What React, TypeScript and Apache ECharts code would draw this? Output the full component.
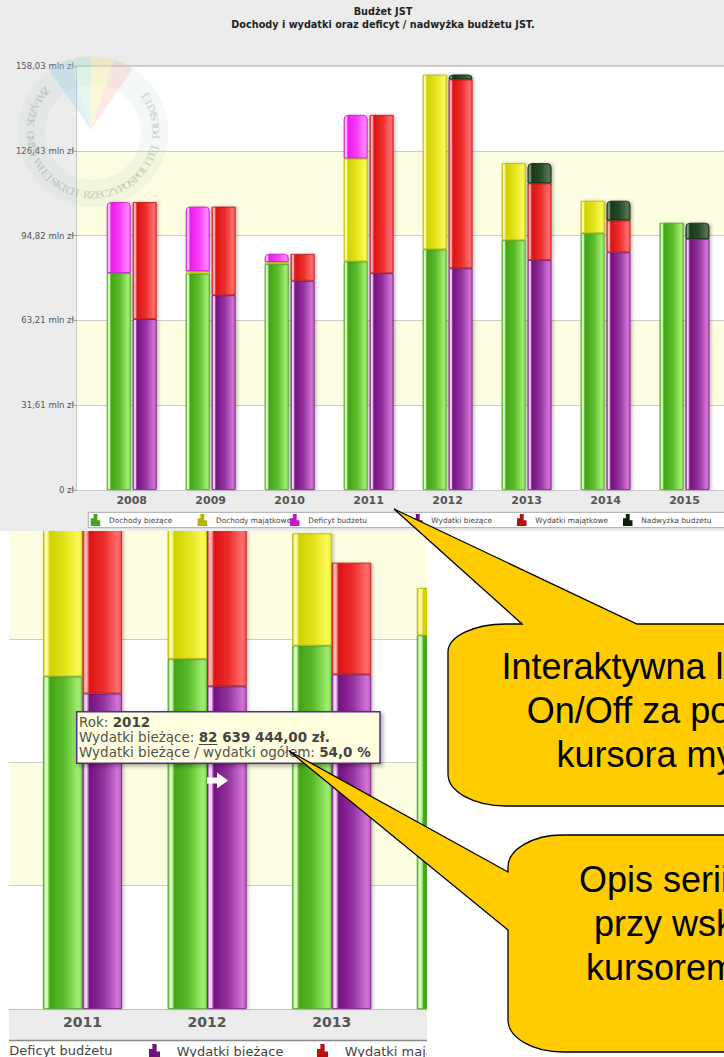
import React, { useEffect, useRef } from "react";
import * as echarts from "echarts";

// ---------------- data ----------------
const years = ["2008", "2009", "2010", "2011", "2012", "2013", "2014", "2015"];
const dochodyBiezace = [80.9, 80.7, 84.2, 85.2, 89.7, 93.1, 95.7, 99.6];
const dochodyMajatkowe = [0, 0.9, 0.8, 38.4, 65.1, 28.7, 12.1, 0];
const deficytBudzetu = [26.4, 24.0, 3.0, 16.2, 0, 0, 0, 0];
const wydatkiBiezace = [63.7, 72.6, 78.0, 80.8, 82.639444, 85.7, 88.6, 93.6];
const wydatkiMajatkowe = [43.6, 33.0, 10.0, 59.0, 70.4, 28.6, 11.9, 0];
const nadwyzkaBudzetu = [0, 0, 0, 0, 1.8, 7.5, 7.3, 6.0];
const seriesNames = [
  "Dochody bieżące",
  "Dochody majątkowe",
  "Deficyt budżetu",
  "Wydatki bieżące",
  "Wydatki majątkowe",
  "Nadwyżka budżetu",
];
const yTickLabels = ["0 zł", "31,61 mln zł", "63,21 mln zł", "94,82 mln zł", "126,43 mln zł", "158,03 mln zł"];
const yMax = 158.03;
const zoomFirstYear = "2011";
const zoomHiddenSeries = ["Nadwyżka budżetu"]; // switched off via the legend in the magnified view
const tooltipYear = "2012";
const titleText = "Budżet JST";
const subtitleText = "Dochody i wydatki oraz deficyt / nadwyżka budżetu JST.";
const callout1 = ["Interaktywna legenda", "On/Off za pomocą", "kursora myszy"];
const callout2 = ["Opis serii danych", "przy wskazaniu", "kursorem myszy"];
const watermarkText = "ZWIĄZEK GMIN WIEJSKICH RZECZYPOSPOLITEJ POLSKIEJ";

// ---------------- styles ----------------
const FF = '"DejaVu Sans", Verdana, sans-serif';
const palettes = [
  ["#58b02c", "#d6ffbc", "#43a417", "#5cbc2c", "#a2ee72", "#86da56"],
  ["#c8c800", "#fbfba8", "#d2d200", "#e4e41c", "#fafa58", "#eeee3a"],
  ["#dd22dd", "#ffc4ff", "#ec1cec", "#f63cf6", "#ff86ff", "#fa66fa"],
  ["#8a2a96", "#f4d2f6", "#74107e", "#9434a0", "#d274d6", "#bc5cc2"],
  ["#dd2020", "#ffb4b4", "#dc1414", "#ee2c2c", "#ff6e6e", "#f45050"],
  ["#1c361c", "#7c967c", "#1a361a", "#284a28", "#557555", "#3a5a3a"],
];
const borders = ["#47a020", "#b4b400", "#c418c4", "#6e1278", "#b41010", "#0e1e0e"];
const legendColors = ["#3f9f1f", "#e0e020", "#e020e0", "#7b1c8a", "#d41a1a", "#1e3a1e"];
const legendIcon = "path://M0,5H2.2V12H0Z M3.4,0H5.6V12H3.4Z M6.8,7.5H9V12H6.8Z";
const bandColors = ["#ffffff", "#fdfde1"];

const bubble1Path =
  "M 522 624 L 394 509 L 637 624 L 940 624 L 940 806 L 506 806 A 58 32 0 0 1 448 774 L 448 652 A 58 28 0 0 1 506 624 Z";
const bubble2Path =
  "M 563 835 L 940 835 L 940 1052 L 563 1052 A 55 32 0 0 1 508 1020 L 508 930 L 289 751 L 508 872 L 508 867 A 55 32 0 0 1 563 835 Z";
echarts.graphic.registerShape("calloutOne", echarts.graphic.extendPath(bubble1Path, {}) as any);
echarts.graphic.registerShape("calloutTwo", echarts.graphic.extendPath(bubble2Path, {}) as any);

const yInterval = yMax / 5;
const yLabel = (v: number) => yTickLabels[Math.round(v / yInterval)] ?? "";

const grad = (c: string[]) =>
  new echarts.graphic.LinearGradient(0, 0, 1, 0, [
    { offset: 0, color: c[0] },
    { offset: 0.05, color: c[1] },
    { offset: 0.1, color: c[1] },
    { offset: 0.17, color: c[2] },
    { offset: 0.55, color: c[3] },
    { offset: 0.9, color: c[4] },
    { offset: 1, color: c[5] },
  ]);

function barSeries(xi: number, yi: number, start: number, barWidth: number, barGap: string, hidden: string[] = []) {
  const values = [dochodyBiezace, dochodyMajatkowe, deficytBudzetu, wydatkiBiezace, wydatkiMajatkowe, nadwyzkaBudzetu];
  return seriesNames
    .map((name, i) => ({
      name,
      type: "bar",
      stack: i < 3 ? "dochody" : "wydatki",
      xAxisIndex: xi,
      yAxisIndex: yi,
      barWidth,
      barGap,
      silent: true,
      data: values[i].slice(start),
      itemStyle: {
        color: grad(palettes[i]),
        borderColor: borders[i],
        borderWidth: 0.8,
        borderRadius: i === 2 || i === 5 ? [4, 4, 0, 0] : 0,
        shadowColor: "rgba(0,0,0,0.22)",
        shadowBlur: 3,
        shadowOffsetX: 2,
      },
    }))
    .filter((s) => hidden.indexOf(s.name) < 0);
}

function watermark(): any[] {
  const cx = 93, cy = 132;
  const els: any[] = [
    { type: "ring", z: 1, silent: true, shape: { cx, cy, r: 75, r0: 48 }, style: { fill: "rgba(170,200,190,0.13)" } },
  ];
  const fan = [
    ["rgba(150,205,235,0.3)", -125, -107],
    ["rgba(175,228,195,0.3)", -107, -90],
    ["rgba(250,240,150,0.38)", -90, -72],
    ["rgba(250,190,180,0.32)", -72, -56],
  ];
  fan.forEach(([c, a, b]: any) => {
    els.push({
      type: "sector", z: 1, silent: true,
      shape: { cx: 91, cy: 130, r0: 0, r: 74, startAngle: (a * Math.PI) / 180, endAngle: (b * Math.PI) / 180, clockwise: true },
      style: { fill: c },
    });
  });
  const chars = Array.from(watermarkText);
  const a0 = 139, a1 = 395, r = 63;
  chars.forEach((ch, k) => {
    const th = ((a0 + ((a1 - a0) * k) / (chars.length - 1)) * Math.PI) / 180;
    els.push({
      type: "text", z: 1, silent: true,
      x: cx + r * Math.cos(th), y: cy - r * Math.sin(th), rotation: th - 1.5 * Math.PI,
      style: { text: ch, font: 'bold 10px "DejaVu Serif", serif', fill: "rgba(90,110,105,0.22)", align: "center", verticalAlign: "middle", textAlign: "center", textVerticalAlign: "middle" },
    });
  });
  return els;
}

function topOption(): any {
  const legendX = [90.7, 197.6, 290, 413, 517, 623];
  return {
    animation: false,
    backgroundColor: "#ececec",
    title: {
      text: titleText,
      subtext: subtitleText,
      left: 383,
      top: 6,
      textAlign: "center",
      itemGap: 3,
      padding: 0,
      textStyle: { fontFamily: FF, fontSize: 9.7, fontWeight: "bold", color: "#222" },
      subtextStyle: { fontFamily: FF, fontSize: 9.7, fontWeight: "bold", color: "#222" },
    },
    grid: [
      { left: 77, top: 66, width: 700, height: 424, show: true, backgroundColor: "#fff", borderColor: "#a9a9a9", borderWidth: 1 },
      { left: 92.2, top: 66, width: 632.3, height: 424 },
    ],
    xAxis: [
      { gridIndex: 0, type: "value", min: 0, max: 1, show: false },
      {
        gridIndex: 1, type: "category", data: years,
        axisLine: { show: false }, axisTick: { show: false },
        axisLabel: { fontFamily: FF, fontSize: 11, fontWeight: "bold", color: "#555", margin: 5, interval: 0 },
      },
    ],
    yAxis: [
      {
        gridIndex: 0, type: "value", min: 0, max: yMax, interval: yInterval,
        axisLine: { show: false },
        axisTick: { show: true, length: 3, lineStyle: { color: "#999" } },
        axisLabel: { formatter: yLabel, fontFamily: FF, fontSize: 8.5, color: "#555", margin: 3 },
        splitLine: { show: true, lineStyle: { color: "#cccccc", width: 1 } },
        splitArea: { show: true, areaStyle: { color: bandColors } },
      },
      { gridIndex: 1, type: "value", min: 0, max: yMax, interval: yInterval, show: false },
    ],
    legend: seriesNames.map((n, i) => ({
      data: [{ name: n, itemStyle: { color: legendColors[i] } }],
      left: legendX[i], top: 514, padding: 0, itemWidth: 8, itemHeight: 10, icon: legendIcon, selectedMode: false,
      textStyle: { fontFamily: FF, fontSize: 7.4, color: "#444", padding: [0, 0, 0, 4.6] },
    })),
    series: barSeries(1, 1, 0, 24, "8%"),
    graphic: [
      ...watermark(),
      { type: "rect", z: 3, silent: true, shape: { x: 88.3, y: 512.3, width: 700, height: 15.4 }, style: { fill: "#fff", stroke: "#a8a8a8", lineWidth: 1 } },
    ],
  };
}

function bottomOption(): any {
  const zs = years.indexOf(zoomFirstYear);
  // the first item's icon lies outside the magnified crop, so it gets no icon width
  const legendItems = [
    { i: 2, left: 0, iw: 0, pad: 3.3 },
    { i: 3, left: 149, iw: 9, pad: 12.7 },
    { i: 4, left: 317, iw: 9, pad: 12.7 },
  ];
  return {
    animation: false,
    backgroundColor: "#ffffff",
    grid: [
      { left: 9, top: 1, width: 418, height: 617 },
      { left: 20.2, top: 1, width: 623, height: 617 },
    ],
    xAxis: [
      {
        gridIndex: 0, type: "value", min: 0, max: 1,
        axisLine: { show: true, lineStyle: { color: "#bdbdbd" } }, axisTick: { show: false },
        axisLabel: { show: false }, splitLine: { show: false },
      },
      {
        gridIndex: 1, type: "category", data: years.slice(zs),
        axisLine: { show: false }, axisTick: { show: false },
        axisLabel: { fontFamily: FF, fontSize: 14, fontWeight: "bold", color: "#555", margin: 6, interval: 0 },
      },
    ],
    yAxis: [
      {
        gridIndex: 0, type: "value", min: 0, max: yMax, interval: yInterval,
        axisLine: { show: false }, axisTick: { show: false }, axisLabel: { show: false },
        splitLine: { show: true, lineStyle: { color: "#cccccc" } },
        splitArea: { show: true, areaStyle: { color: bandColors } },
      },
      { gridIndex: 1, type: "value", min: 0, max: yMax, interval: yInterval, show: false },
    ],
    legend: legendItems.map(({ i, left, iw, pad }) => ({
      data: [{ name: seriesNames[i], itemStyle: { color: legendColors[i] } }],
      left, top: 653, padding: 0, itemWidth: iw, itemHeight: 12, icon: legendIcon, selectedMode: false,
      textStyle: { fontFamily: FF, fontSize: 13, color: "#444", padding: [0, 0, 0, pad] },
    })),
    series: barSeries(1, 1, zs, 39.5, "0%", zoomHiddenSeries),
    graphic: [
      { type: "rect", z: -1, silent: true, shape: { x: 9, y: 618.5, width: 418, height: 30.5 }, style: { fill: "#ececec" } },
      { type: "line", z: 5, silent: true, shape: { x1: 9, y1: 649.5, x2: 427, y2: 649.5 }, style: { stroke: "#8a8a8a", lineWidth: 1.5 } },
    ],
  };
}

function overlayOption(): any {
  const ti = years.indexOf(tooltipYear);
  const wb = wydatkiBiezace[ti];
  const total = wb + wydatkiMajatkowe[ti];
  const digits = Math.round(wb * 1e6).toString();
  const grouped = digits.replace(/\B(?=(\d{3})+(?!\d))/g, " ");
  const firstGroup = grouped.split(" ")[0];
  const valueText = grouped + ",00 zł.";
  const pct = ((wb / total) * 100).toFixed(1).replace(".", ",") + " %";
  const labelA = "Wydatki bieżące: ";
  const fs = 13.5;

  let ulStart = 79 + 120;
  let ulWidth = 18;
  try {
    const ctx = document.createElement("canvas").getContext("2d");
    if (ctx) {
      ctx.font = `${fs}px "DejaVu Sans"`;
      ulStart = 79 + ctx.measureText(labelA).width;
      ctx.font = `bold ${fs}px "DejaVu Sans"`;
      ulWidth = ctx.measureText(firstGroup).width;
    }
  } catch (e) {}

  const calloutText = (lines: string[], x: number, y: number) => ({
    type: "text", z: 30, silent: true, x, y,
    style: {
      text: lines.join("\n"), font: '36px "Liberation Sans", Arial, sans-serif', fill: "#000",
      lineHeight: 44, align: "center", verticalAlign: "middle", textAlign: "center", textVerticalAlign: "middle",
    },
  });

  return {
    animation: false,
    backgroundColor: "transparent",
    graphic: [
      {
        type: "rect", z: 10, silent: true,
        shape: { x: 76.7, y: 711.7, width: 303.3, height: 51.6 },
        style: { fill: "#ffffe0", stroke: "#4e3080", lineWidth: 1.5, shadowColor: "rgba(0,0,0,0.35)", shadowBlur: 4, shadowOffsetX: 2, shadowOffsetY: 2 },
      },
      {
        type: "text", z: 11, silent: true, x: 79, y: 714.5,
        style: {
          text: `{n|Rok: }{b|${tooltipYear}}\n{n|${labelA}}{b|${valueText}}\n{n|Wydatki bieżące / wydatki ogółem: }{b|${pct}}`,
          font: `${fs}px ${FF}`, fill: "#505050", lineHeight: 15, verticalAlign: "top", textVerticalAlign: "top",
          rich: {
            n: { fontFamily: FF, fontSize: fs, fill: "#505050", lineHeight: 15 },
            b: { fontFamily: FF, fontSize: fs, fontWeight: "bold", fill: "#444", lineHeight: 15 },
          },
        },
      },
      {
        type: "line", z: 11, silent: true,
        shape: { x1: ulStart, y1: 744.5, x2: ulStart + ulWidth, y2: 744.5 },
        style: { stroke: "#444", lineWidth: 1 },
      },
      {
        type: "polygon", z: 11, silent: true,
        shape: { points: [[207, 777.5], [217, 777.5], [217, 772.5], [228, 780.5], [217, 788.5], [217, 783.5], [207, 783.5]] },
        style: { fill: "#ffffff" },
      },
      { type: "calloutOne", z: 20, silent: true, x: 0, y: 0, style: { fill: "#ffcc00", stroke: "#000", lineWidth: 1.3 } },
      calloutText(callout1, 672.5, 710),
      { type: "calloutTwo", z: 20, silent: true, x: 0, y: 0, style: { fill: "#ffcc00", stroke: "#000", lineWidth: 1.3 } },
      calloutText(callout2, 717, 923),
    ],
  };
}

export default function App() {
  const topRef = useRef<HTMLDivElement>(null);
  const botRef = useRef<HTMLDivElement>(null);
  const ovRef = useRef<HTMLDivElement>(null);

  useEffect(() => {
    const charts: any[] = [];
    if (topRef.current) {
      const c = echarts.init(topRef.current, null, { renderer: "svg" });
      c.setOption(topOption());
      charts.push(c);
    }
    if (botRef.current) {
      const c = echarts.init(botRef.current, null, { renderer: "svg" });
      c.setOption(bottomOption());
      charts.push(c);
    }
    if (ovRef.current) {
      const c = echarts.init(ovRef.current, null, { renderer: "svg" });
      c.setOption(overlayOption());
      charts.push(c);
    }
    return () => charts.forEach((c) => c.dispose());
  }, []);

  return (
    <div style={{ position: "absolute", left: 0, top: 0, width: 724, height: 1057, overflow: "hidden", background: "#fff" }}>
      <div ref={topRef} style={{ position: "absolute", left: 0, top: 0, width: 724, height: 531 }} />
      <div style={{ position: "absolute", left: 0, top: 531, width: 427, height: 526, overflow: "hidden" }}>
        <div ref={botRef} style={{ position: "absolute", left: 0, top: -140, width: 700, height: 666 }} />
      </div>
      <div ref={ovRef} style={{ position: "absolute", left: 0, top: 0, width: 724, height: 1057, pointerEvents: "none" }} />
    </div>
  );
}
